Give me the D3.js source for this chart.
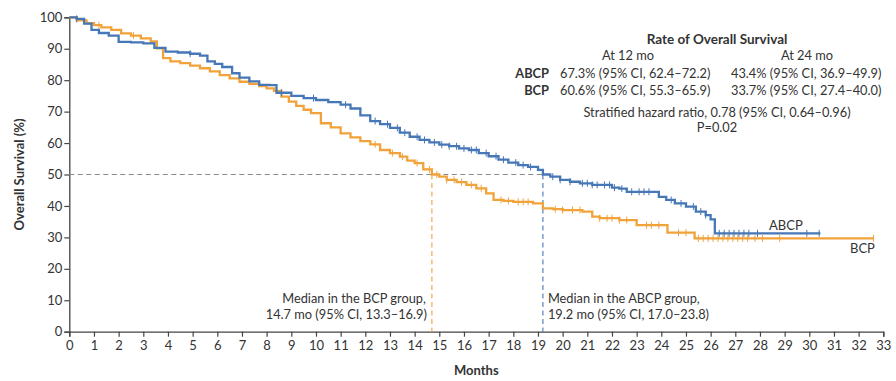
<!DOCTYPE html>
<html><head><meta charset="utf-8">
<script src="https://cdn.jsdelivr.net/npm/d3@7/dist/d3.min.js"></script>
<style>
html,body{margin:0;padding:0;background:#fff;}
svg text{font-family:Lato,"Noto Sans",sans-serif;fill:#333;}
</style></head>
<body><svg id="c" width="896" height="381"></svg>
<script>
const xTicks = d3.range(0, 34);
const yTicks = [0,10,20,30,40,50,60,70,80,90,100];

const abcpMonths = [0,0.3,0.6,0.9,1.2,1.6,2.0,2.5,3.0,3.45,3.9,4.4,4.9,5.3,5.6,5.9,6.2,6.6,6.9,7.3,7.7,8.1,8.4,9.0,9.5,10.0,10.5,11.0,11.4,11.8,12.2,12.6,13.0,13.4,13.8,14.2,14.6,15.0,15.4,15.8,16.2,16.6,17.0,17.4,17.8,18.2,18.6,19.0,19.2,19.5,19.9,20.3,20.7,21.2,22.0,22.3,22.6,23.9,24.2,24.55,25.0,25.4,25.8,26.0,26.17];
const abcpSurv   = [100,99.5,98,96,95,94.2,92.2,92,91.7,90.3,89.1,88.8,88.4,87.8,86,85.2,84.2,82.2,80.8,79.6,78.5,78.4,76.0,75.0,74.3,73.7,73.0,72.2,71.0,68.8,67.0,66.0,64.8,63.3,62.0,61.0,60.2,59.5,59.0,58.3,57.8,56.8,55.8,54.7,53.8,53.0,52.4,51.5,50.0,49.3,48.3,47.7,47.2,46.7,45.8,45.5,44.5,42.9,41.9,40.8,39.8,38.2,37.1,35.7,31.3];
const abcpEnd = 30.45;
const abcpCensor = [0.3,4.9,8.6,9.9,11.2,12.4,12.9,13.3,13.6,14.1,14.4,14.8,15.1,15.4,15.7,16.0,16.3,16.5,16.9,17.3,17.6,18.1,18.4,18.7,19.6,19.9,20.3,20.8,21.0,21.2,21.4,21.7,21.9,22.1,22.4,22.8,23.1,23.3,23.5,24.4,24.8,25.3,25.6,25.8,26.35,26.55,26.75,26.95,27.15,27.35,27.55,27.9,29.9,30.4];

const bcpMonths = [0,0.3,0.7,1.0,1.3,1.7,2.1,2.5,2.9,3.3,3.55,3.8,4.1,4.5,4.9,5.3,5.7,6.1,6.5,6.9,7.3,7.7,8.0,8.3,8.6,8.9,9.2,9.5,9.8,10.2,10.6,11.0,11.4,11.8,12.2,12.6,13.0,13.4,13.7,14.0,14.35,14.7,15.0,15.3,15.7,16.1,16.5,16.9,17.2,17.6,18.0,18.8,19.2,19.6,20.0,20.8,21.2,21.5,22.3,23.0,24.25,25.35];
const bcpSurv   = [100,99,98.1,97.5,96.8,96,94.9,94.2,93.3,92.3,90.1,87.0,86.0,85.4,84.6,83.8,82.8,81.6,80.6,79.5,78.8,78.1,77.4,76.6,74.8,73.2,71.8,70.6,69.5,66.3,65.0,63.1,61.8,60.6,59.6,57.8,56.8,55.7,54.4,53.6,51.6,50.0,49.3,48.3,47.6,46.7,45.6,44.0,41.9,41.6,41.3,40.8,39.2,39.0,38.7,38.2,36.6,36.1,35.5,33.9,31.5,29.7];
const bcpEnd = 32.6;
const bcpCensor = [1.2,2.6,12.4,13.1,13.5,14.1,14.6,14.9,15.3,15.6,15.9,16.3,16.7,17.5,17.8,18.2,18.4,18.6,19.7,20.0,20.4,20.7,21.5,21.8,22.0,22.3,22.6,23.4,23.6,23.9,24.7,25.0,25.5,25.7,25.9,26.1,26.3,26.5,26.7,26.9,27.1,27.3,27.5,27.8,28.1,28.8,32.6];

const medianBCP = 14.7, medianABCP = 19.2;
const blue = "#4677b6", orange = "#f1a23a";

const svg = d3.select("#c");
const L = 69.3, R = 883.3, T = 17.3, B = 331.7;
const x = d3.scaleLinear().domain([0,33]).range([L,R]);
const y = d3.scaleLinear().domain([0,100]).range([B,T]);

// axes
const gx = svg.append("g").attr("transform",`translate(0,${B})`)
  .call(d3.axisBottom(x).tickValues(xTicks).tickSize(5).tickPadding(4).tickFormat(d3.format("d")));
const gy = svg.append("g").attr("transform",`translate(${L},0)`)
  .call(d3.axisLeft(y).tickValues(yTicks).tickSize(5).tickPadding(2).tickFormat(d3.format("d")));
[gx,gy].forEach(g=>{
  g.select(".domain").attr("stroke","#444").attr("stroke-width",1.3);
  g.selectAll(".tick line").attr("stroke","#444").attr("stroke-width",1.2);
  g.selectAll(".tick text").attr("fill","#333").style("font-size","13px").style("font-family","Lato, sans-serif");
});

// median reference lines
svg.append("line").attr("x1",x(0)).attr("x2",x(medianABCP)).attr("y1",y(50)).attr("y2",y(50))
  .attr("stroke","#8a8a8a").attr("stroke-width",1).attr("stroke-dasharray","5,3.5");
svg.append("line").attr("x1",x(medianBCP)).attr("x2",x(medianBCP)).attr("y1",y(50)).attr("y2",y(0))
  .attr("stroke",orange).attr("stroke-width",1.1).attr("stroke-dasharray","5,3.5");
svg.append("line").attr("x1",x(medianABCP)).attr("x2",x(medianABCP)).attr("y1",y(50)).attr("y2",y(0))
  .attr("stroke",blue).attr("stroke-width",1.1).attr("stroke-dasharray","5,3.5");

function series(months, surv, end, censor, color){
  const pts = months.map((m,i)=>[m,surv[i]]);
  pts.push([end, surv[surv.length-1]]);
  const line = d3.line().x(d=>x(d[0])).y(d=>y(d[1])).curve(d3.curveStepAfter);
  svg.append("path").datum(pts).attr("d",line).attr("fill","none")
    .attr("stroke",color).attr("stroke-width",2.3);
  const at = t => { let v = surv[0]; for(let i=0;i<months.length;i++){ if(months[i]<=t) v=surv[i]; } return v; };
  svg.append("g").selectAll("line").data(censor).join("line")
    .attr("x1",d=>x(d)).attr("x2",d=>x(d))
    .attr("y1",d=>y(at(d))-3.5).attr("y2",d=>y(at(d))+3.5)
    .attr("stroke",color).attr("stroke-width",1);
}
series(bcpMonths,bcpSurv,bcpEnd,bcpCensor,orange);
series(abcpMonths,abcpSurv,abcpEnd,abcpCensor,blue);

// axis titles
svg.append("text").attr("x",(L+R)/2).attr("y",375).attr("text-anchor","middle")
  .style("font-size","13px").style("font-weight","bold").text("Months");
svg.append("text").attr("transform",`translate(24,${(T+B)/2}) rotate(-90)`).attr("text-anchor","middle")
  .style("font-size","13px").style("font-weight","bold").text("Overall Survival (%)");

// curve labels
svg.append("text").attr("x",769).attr("y",230).style("font-size","13px").text("ABCP");
svg.append("text").attr("x",850).attr("y",253).style("font-size","13px").text("BCP");

// median annotations
const ann = svg.append("g").style("font-size","12.8px");
ann.append("text").attr("x",x(medianBCP)-6).attr("y",303).attr("text-anchor","end").text("Median in the BCP group,");
ann.append("text").attr("x",x(medianBCP)-5).attr("y",319).attr("text-anchor","end").text("14.7 mo (95% CI, 13.3\u201316.9)");
ann.append("text").attr("x",x(medianABCP)+5).attr("y",303).text("Median in the ABCP group,");
ann.append("text").attr("x",x(medianABCP)+5).attr("y",319).text("19.2 mo (95% CI, 17.0\u201323.8)");

// rate table
const tb = svg.append("g").style("font-size","12.8px");
tb.append("text").attr("x",717).attr("y",44).attr("text-anchor","middle").style("font-weight","bold").style("font-size","13.5px").text("Rate of Overall Survival");
tb.append("text").attr("x",628).attr("y",60).attr("text-anchor","middle").text("At 12 mo");
tb.append("text").attr("x",807).attr("y",60).attr("text-anchor","middle").text("At 24 mo");
tb.append("text").attr("x",549).attr("y",78).attr("text-anchor","end").style("font-weight","bold").text("ABCP");
tb.append("text").attr("x",549).attr("y",95).attr("text-anchor","end").style("font-weight","bold").text("BCP");
tb.append("text").attr("x",560).attr("y",78).text("67.3% (95% CI, 62.4\u201372.2)");
tb.append("text").attr("x",731).attr("y",78).text("43.4% (95% CI, 36.9\u201349.9)");
tb.append("text").attr("x",560).attr("y",95).text("60.6% (95% CI, 55.3\u201365.9)");
tb.append("text").attr("x",731).attr("y",95).text("33.7% (95% CI, 27.4\u201340.0)");
tb.append("text").attr("x",717).attr("y",117).attr("text-anchor","middle").text("Stratified hazard ratio, 0.78 (95% CI, 0.64\u20130.96)");
tb.append("text").attr("x",717).attr("y",132).attr("text-anchor","middle").text("P=0.02");
</script></body></html>
